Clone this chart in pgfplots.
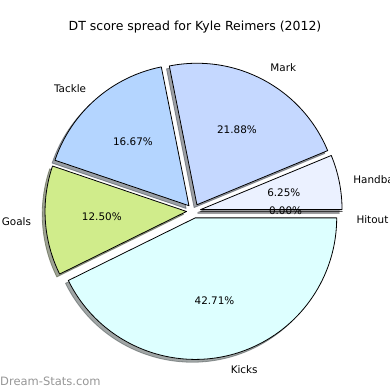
\documentclass[border=0pt]{standalone}
\usepackage{fontspec}
\setmainfont{DejaVu Sans}
\usepackage{pgfplots}
\usepackage{pgfplotstable}
\pgfplotsset{compat=1.18}

\definecolor{cHitout}{RGB}{240,244,255}
\definecolor{cHandball}{RGB}{235,241,255}
\definecolor{cMark}{RGB}{197,216,255}
\definecolor{cTackle}{RGB}{180,213,255}
\definecolor{cGoals}{RGB}{208,236,139}
\definecolor{cKicks}{RGB}{221,255,255}

% centre, radius and explode distance of the pie (in px of a 390x390 canvas)
\def\pieCX{193.6}\def\pieCY{179}\def\Rad{141.5}\def\pieExpl{7.075}

\pgfplotstableread{
label    pct   col       ldy
Hitout   0.00  cHitout   -9
Handball 6.25  cHandball 0
Mark     21.88 cMark     0
Tackle   16.67 cTackle   0
Goals    12.50 cGoals    0
Kicks    42.71 cKicks    0
}\piedata

\pgfplotstablegetrowsof{\piedata}
\pgfmathtruncatemacro\pieLast{\pgfplotsretval-1}
\def\pieTotal{0}
\pgfplotsforeachungrouped \i in {0,...,\pieLast}{%
  \pgfplotstablegetelem{\i}{pct}\of\piedata
  \pgfmathsetmacro\pieTotal{\pieTotal+\pgfplotsretval}%
}
\def\pieCum{0}
\pgfplotsforeachungrouped \i in {0,...,\pieLast}{%
  \pgfplotstablegetelem{\i}{pct}\of\piedata
  \expandafter\xdef\csname piePCT\i\endcsname{\pgfplotsretval}%
  \pgfmathsetmacro\pieSa{\pieCum}%
  \pgfmathsetmacro\pieEa{\pieCum+360*\pgfplotsretval/\pieTotal}%
  \let\pieCum\pieEa
  \pgfmathsetmacro\pieMa{(\pieSa+\pieEa)/2}%
  \pgfmathsetmacro\pieWx{\pieCX+\pieExpl*cos(\pieMa)}%
  \pgfmathsetmacro\pieWy{\pieCY+\pieExpl*sin(\pieMa)}%
  \pgfmathsetmacro\pieLx{\pieWx+1.1*\Rad*cos(\pieMa)}%
  \pgfplotstablegetelem{\i}{ldy}\of\piedata
  \pgfmathsetmacro\pieLy{\pieWy+1.1*\Rad*sin(\pieMa)+\pgfplotsretval}%
  \pgfmathsetmacro\piePx{\pieWx+0.6*\Rad*cos(\pieMa)}%
  \pgfmathsetmacro\piePy{\pieWy+0.6*\Rad*sin(\pieMa)}%
  \pgfmathsetmacro\pieSx{\pieWx-0.02*\Rad}%
  \pgfmathsetmacro\pieSy{\pieWy-0.02*\Rad}%
  \pgfmathtruncatemacro\pieIsRight{\pieLx>\pieCX}%
  \expandafter\xdef\csname pieSA\i\endcsname{\pieSa}%
  \expandafter\xdef\csname pieEA\i\endcsname{\pieEa}%
  \expandafter\xdef\csname pieWX\i\endcsname{\pieWx}%
  \expandafter\xdef\csname pieWY\i\endcsname{\pieWy}%
  \expandafter\xdef\csname pieSX\i\endcsname{\pieSx}%
  \expandafter\xdef\csname pieSY\i\endcsname{\pieSy}%
  \expandafter\xdef\csname pieLX\i\endcsname{\pieLx}%
  \expandafter\xdef\csname pieLY\i\endcsname{\pieLy}%
  \expandafter\xdef\csname piePX\i\endcsname{\piePx}%
  \expandafter\xdef\csname piePY\i\endcsname{\piePy}%
  \ifnum\pieIsRight=1
    \expandafter\xdef\csname pieANC\i\endcsname{west}%
  \else
    \expandafter\xdef\csname pieANC\i\endcsname{east}%
  \fi
  \pgfplotstablegetelem{\i}{label}\of\piedata
  \expandafter\xdef\csname pieLAB\i\endcsname{\pgfplotsretval}%
  \pgfplotstablegetelem{\i}{col}\of\piedata
  \colorlet{pie\i}{\pgfplotsretval}%
}

\tikzset{
  lbl/.style={font=\fontsize{10.4bp}{12bp}\selectfont, inner sep=0pt, text=black},
}

\begin{document}
\begin{tikzpicture}
\useasboundingbox (0,0) rectangle (390bp,390bp);
\begin{axis}[
  at={(0,0)}, anchor=south west,
  hide axis, clip=false,
  x=1bp, y=1bp,
  xmin=0, xmax=390, ymin=0, ymax=390,
]
% shadows
\pgfplotsforeachungrouped \i in {0,...,\pieLast}{%
  \edef\temp{\noexpand\path[fill=pie\i!30!black, draw=pie\i!30!black, opacity=0.5, line width=0.8bp, line join=round]
    (axis cs:\csname pieSX\i\endcsname,\csname pieSY\i\endcsname) -- ++(\csname pieSA\i\endcsname:\Rad bp)
    arc[start angle=\csname pieSA\i\endcsname, end angle=\csname pieEA\i\endcsname, radius=\Rad bp] -- cycle;}%
  \temp
}
% wedges
\pgfplotsforeachungrouped \i in {0,...,\pieLast}{%
  \edef\temp{\noexpand\path[fill=pie\i, draw=black, line width=0.8bp, line join=round]
    (axis cs:\csname pieWX\i\endcsname,\csname pieWY\i\endcsname) -- ++(\csname pieSA\i\endcsname:\Rad bp)
    arc[start angle=\csname pieSA\i\endcsname, end angle=\csname pieEA\i\endcsname, radius=\Rad bp] -- cycle;}%
  \temp
}
% labels and percentages
\pgfplotsforeachungrouped \i in {0,...,\pieLast}{%
  \edef\temp{\noexpand\node[lbl, anchor=\csname pieANC\i\endcsname]
    at (axis cs:\csname pieLX\i\endcsname,\csname pieLY\i\endcsname) {\csname pieLAB\i\endcsname};
    \noexpand\node[lbl, anchor=center]
    at (axis cs:\csname piePX\i\endcsname,\csname piePY\i\endcsname) {\csname piePCT\i\endcsname\noexpand\%};}%
  \temp
}
% title and watermark
\node[anchor=base, inner sep=0pt, font=\fontsize{12.5bp}{15bp}\selectfont] at (axis cs:195,360) {DT score spread for Kyle Reimers (2012)};
\node[anchor=base west, inner sep=0pt, text={rgb,255:red,150;green,150;blue,150}, font=\fontsize{11.5bp}{14bp}\selectfont] at (axis cs:0,5) {Dream-Stats.com};
\end{axis}
\end{tikzpicture}
\end{document}
